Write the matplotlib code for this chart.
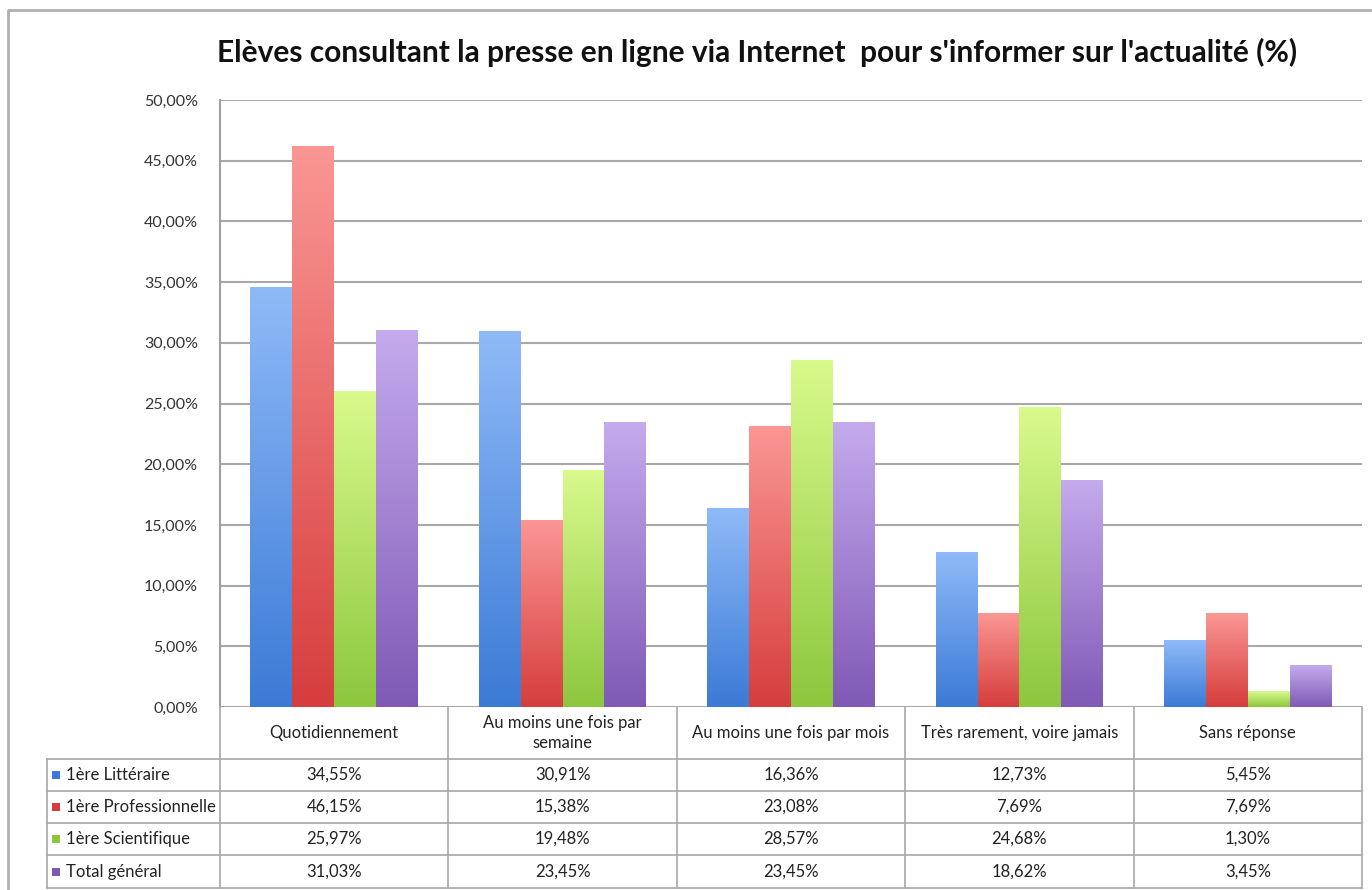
import matplotlib
matplotlib.use("Agg")
from matplotlib import pyplot as plt
from matplotlib.patches import Rectangle
from matplotlib.lines import Line2D
import matplotlib.transforms as mtransforms
import numpy as np

plt.rcParams['font.family'] = ['Lato', 'DejaVu Sans']

# data
categories = ["Quotidiennement", "Au moins une fois par\nsemaine", "Au moins une fois par mois",
              "Très rarement, voire jamais", "Sans réponse"]
series = ["1ère Littéraire", "1ère Professionnelle", "1ère Scientifique", "Total général"]
litteraire = [34.55, 30.91, 16.36, 12.73, 5.45]
professionnelle = [46.15, 15.38, 23.08, 7.69, 7.69]
scientifique = [25.97, 19.48, 28.57, 24.68, 1.30]
total = [31.03, 23.45, 23.45, 18.62, 3.45]
values = [litteraire, professionnelle, scientifique, total]
yticks = np.arange(0, 50.01, 5)

# gradient colours (top, bottom)
grads = [((0.56, 0.73, 0.97), (0.23, 0.48, 0.84)),
         ((0.98, 0.59, 0.58), (0.84, 0.24, 0.24)),
         ((0.85, 0.98, 0.55), (0.55, 0.78, 0.24)),
         ((0.77, 0.67, 0.93), (0.50, 0.35, 0.71))]

W, H = 1372, 890
fig = plt.figure(figsize=(W / 100, H / 100), dpi=100)
fig.patch.set_facecolor("white")

def fx(px):
    return px / W

def fy(py):
    return 1 - py / H

ax = fig.add_axes([fx(220), fy(707), fx(1362) - fx(220), fy(100) - fy(707)])
ax.set_xlim(-0.5, len(categories) - 0.5)
ax.set_ylim(0, 50)
ax.set_yticks(yticks)
ax.set_yticklabels([f"{t:.2f}".replace(".", ",") + "%" for t in yticks], fontsize=11.5, color="#333333")
ax.set_xticks([])
ax.tick_params(axis="y", length=0, pad=16)
for s in ["top", "right", "bottom"]:
    ax.spines[s].set_visible(False)
ax.spines["left"].set_color("#a0a0a0")
ax.spines["left"].set_linewidth(1.5)
ax.grid(axis="y", color="#a8a8a8", linewidth=1.5)
ax.set_axisbelow(True)

bw = 0.1834
x = np.arange(len(categories))
grad = np.linspace(1, 0, 256)
for i, vals in enumerate(values):
    top, bot = np.array(grads[i][0]), np.array(grads[i][1])
    cols = np.array([bot + (top - bot) * g for g in grad]).reshape(-1, 1, 3)
    bars = ax.bar(x + (i - 1.5) * bw, vals, width=bw, color="none", edgecolor="none", zorder=3)
    for b in bars:
        x0, y0 = b.get_x(), b.get_y()
        ax.imshow(cols, extent=[x0, x0 + b.get_width(), y0, y0 + b.get_height()],
                  aspect="auto", zorder=3, interpolation="bilinear")
ax.set_xlim(-0.5, len(categories) - 0.5)
ax.set_ylim(0, 50)

fig.text(fx(757), fy(52), "Elèves consultant la presse en ligne via Internet  pour s'informer sur l'actualité (%)",
         ha="center", va="center", fontsize=21.5, fontweight="bold", color="#111111")

# data table under the chart
bt = mtransforms.blended_transform_factory(ax.transData, fig.transFigure)
line_kw = dict(color="#a8a8a8", linewidth=1.2)
rows_y = [707, 759, 791, 823, 855, 888]
edges = np.arange(len(categories) + 1) - 0.5
for e in edges:
    fig.add_artist(Line2D([e, e], [fy(rows_y[0]), fy(rows_y[-1])], transform=bt, **line_kw))
fig.add_artist(Line2D([fx(47), fx(47)], [fy(rows_y[1]), fy(rows_y[-1])], transform=fig.transFigure, **line_kw))
for ry in rows_y[1:]:
    fig.add_artist(Line2D([fx(47), fx(1362)], [fy(ry), fy(ry)], transform=fig.transFigure, **line_kw))

for j, c in enumerate(categories):
    fig.text(x[j], fy((rows_y[0] + rows_y[1]) / 2), c, transform=bt, ha="center", va="center",
             fontsize=12, color="#222222", linespacing=1.3)

for i, s in enumerate(series):
    yc = fy((rows_y[i + 1] + rows_y[i + 2]) / 2)
    fig.add_artist(Rectangle((fx(52), yc - 4 / H), 8 / W, 8 / H, transform=fig.transFigure,
                             facecolor=grads[i][1], edgecolor="none"))
    fig.text(fx(66), yc, s, ha="left", va="center", fontsize=12, color="#222222")
    for j, v in enumerate(values[i]):
        fig.text(x[j], yc, f"{v:.2f}".replace(".", ",") + "%", transform=bt, ha="center", va="center",
                 fontsize=12, color="#222222")

# outer frame of the picture
fig.add_artist(Line2D([fx(8), fx(8), fx(1372)], [fy(890), fy(10), fy(10)], transform=fig.transFigure,
                      color="#b0b0b0", linewidth=2))

fig.savefig("out.png", dpi=100)
